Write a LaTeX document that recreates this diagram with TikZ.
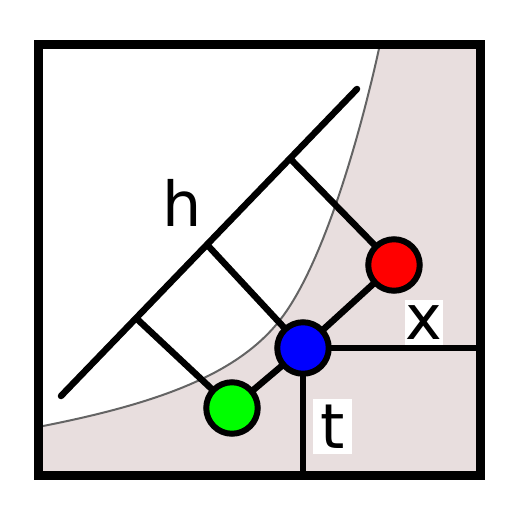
\documentclass[tikz,border=0pt]{standalone}
\usepackage{fontspec}
\newfontfamily\labfont{DejaVu Sans}
\definecolor{pinkbg}{RGB}{232,222,222}
\definecolor{curvegray}{RGB}{100,100,100}
\pgfdeclarelayer{bg}
\pgfdeclarelayer{mid}
\pgfsetlayers{bg,mid,main}
\tikzset{
  thickline/.style={line width=6.5pt, black},
  dot/.style={circle, draw=black, line width=6pt, minimum size=51.5pt, inner sep=0pt},
  lab/.style={font=\labfont\fontsize{62}{70}\selectfont, inner sep=0pt, text=black},
  labbox/.style={lab, fill=white}
}
\begin{document}
\begin{tikzpicture}[x=1pt,y=-1pt]
\useasboundingbox (0,0) rectangle (512,512);
% circles
\node[dot, fill=green] (g) at (232,408) {};
\node[dot, fill=blue] (b) at (303,348) {};
\node[dot, fill=red] (r) at (394,265) {};
% coordinates
\coordinate (hs) at (61,396);
\coordinate (he) at (357,89);
\coordinate (h1) at (136,318);
\coordinate (h2) at (207,244.6);
\coordinate (h3) at (290,158.5);
\coordinate (xr) at (480,349);
\coordinate (tb) at (304,475);
\coordinate (c0) at (380,44);
\coordinate (cj) at (280,320);
\coordinate (c1) at (38,427);
\begin{pgfonlayer}{bg}
\fill[pinkbg] (c0) .. controls (367.5,102.7) and (329.3,257) .. (cj)
  .. controls (236.9,375.2) and (155.8,404.1) .. (c1)
  -- (38,475) -- (480,475) -- (480,44) -- cycle;
\draw[curvegray, line width=2pt] (c0) .. controls (367.5,102.7) and (329.3,257) .. (cj)
  .. controls (236.9,375.2) and (155.8,404.1) .. (c1);
\end{pgfonlayer}
\begin{pgfonlayer}{mid}
\draw[thickline, line cap=round] (hs) -- (he);
\draw[thickline] (h1) -- (g.center);
\draw[thickline] (h2) -- (b.center);
\draw[thickline] (h3) -- (r.center);
\draw[thickline] (g.center) -- (b.center) -- (r.center);
\draw[thickline, line width=6pt] (b.center) -- (b.center -| xr);
\draw[thickline, line width=6pt] (b.center) -- (b.center |- tb);
\end{pgfonlayer}
% labels
\node[lab] (hl) at (182.5,203) {h};
\node[labbox, minimum width=38pt, minimum height=45pt] (xl) at (424,322.5) {x};
\node[labbox, minimum width=39pt, minimum height=55pt] (tl) at (332.5,426.5) {t};
% border
\draw[line width=9pt] (38,44) rectangle (480,475);
\end{tikzpicture}
\end{document}
